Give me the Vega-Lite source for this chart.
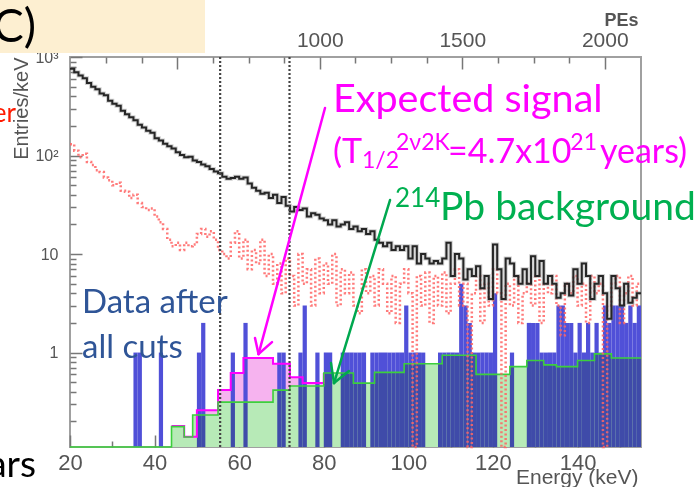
{
  "$schema": "https://vega.github.io/schema/vega-lite/v6.json",
  "width": 571,
  "height": 390,
  "autosize": "none",
  "padding": {"left": 70, "top": 57, "right": 53, "bottom": 40},
  "background": "white",
  "config": {"view": {"stroke": "#a0a0a0", "strokeWidth": 2}, "font": "Liberation Sans"},
  "datasets": {
    "h": [
      {"e":20,"black":760,"red":130,"pb":0.11},{"e":21,"black":700,"red":112,"pb":0.11},{"e":22,"black":650,"red":96,"pb":0.11},{"e":23,"black":610,"red":104,"pb":0.11},{"e":24,"black":545,"red":86,"pb":0.11},{"e":25,"black":500,"red":80,"pb":0.11},{"e":26,"black":470,"red":71,"pb":0.11},{"e":27,"black":425,"red":68,"pb":0.11},{"e":28,"black":410,"red":60,"pb":0.11},{"e":29,"black":360,"red":56,"pb":0.11},
      {"e":30,"black":335,"red":50,"pb":0.11},{"e":31,"black":320,"red":53,"pb":0.11},{"e":32,"black":285,"red":44,"pb":0.11},{"e":33,"black":262,"red":43,"pb":0.11},{"e":34,"black":245,"red":37,"pb":0.11},{"e":35,"black":228,"red":40,"pb":0.11},{"e":36,"black":205,"red":33,"pb":0.11},{"e":37,"black":192,"red":30,"pb":0.11},{"e":38,"black":178,"red":28,"pb":0.11},{"e":39,"black":170,"red":29,"pb":0.11},
      {"e":40,"black":150,"red":24,"pb":0.11},{"e":41,"black":142,"red":21,"pb":0.11},{"e":42,"black":132,"red":18,"pb":0.11},{"e":43,"black":124,"red":14,"pb":0.11},{"e":44,"black":118,"red":12,"pb":0.177,"sig":0.18},{"e":45,"black":108,"red":13,"pb":0.177,"sig":0.18},{"e":46,"black":101,"red":11,"pb":0.177,"sig":0.18},{"e":47,"black":96,"red":13,"pb":0.139,"sig":0.14},{"e":48,"black":97,"red":12,"pb":0.139,"sig":0.14},{"e":49,"black":89,"red":12.5,"pb":0.232,"sig":0.14},
      {"e":50,"black":86,"red":16,"pb":0.232,"sig":0.26},{"e":51,"black":81,"red":18,"pb":0.232,"sig":0.26},{"e":52,"black":78,"red":15,"pb":0.232,"sig":0.26},{"e":53,"black":73,"red":17,"pb":0.232,"sig":0.26},{"e":54,"black":69,"red":14,"pb":0.232,"sig":0.26},{"e":55,"black":66,"red":11,"pb":0.314,"sig":0.416},{"e":56,"black":61,"red":10,"pb":0.314,"sig":0.416},{"e":57,"black":58,"red":9,"pb":0.314,"sig":0.416},{"e":58,"black":59,"red":13,"pb":0.314,"sig":0.62},{"e":59,"black":61,"red":17,"pb":0.314,"sig":0.62},
      {"e":60,"black":58,"red":9,"pb":0.314,"sig":0.62},{"e":61,"black":60,"red":14,"pb":0.314,"sig":0.88},{"e":62,"black":52,"red":7,"pb":0.314,"sig":0.88},{"e":63,"black":47,"red":11,"pb":0.314,"sig":0.88},{"e":64,"black":44,"red":8,"pb":0.314,"sig":0.88},{"e":65,"black":41,"red":14,"pb":0.314,"sig":0.88},{"e":66,"black":42,"red":6,"pb":0.314,"sig":0.88},{"e":67,"black":37,"red":10,"pb":0.314,"sig":0.88},{"e":68,"black":40,"red":5,"pb":0.416,"sig":0.77},{"e":69,"black":33,"red":8,"pb":0.416,"sig":0.77},
      {"e":70,"black":38,"red":4,"pb":0.416,"sig":0.77},{"e":71,"black":31,"red":9,"pb":0.416,"sig":0.77},{"e":72,"black":27,"red":6,"pb":0.457,"sig":0.56},{"e":73,"black":30,"red":3,"pb":0.457,"sig":0.56},{"e":74,"black":28,"red":10,"pb":0.457,"sig":0.56},{"e":75,"black":29,"red":5,"pb":0.457,"sig":0.49},{"e":76,"black":24,"red":7,"pb":0.457,"sig":0.49},{"e":77,"black":26,"red":3,"pb":0.457,"sig":0.49},{"e":78,"black":25,"red":9,"pb":0.457,"sig":0.49},{"e":79,"black":23,"red":4,"pb":0.457,"sig":0.49},
      {"e":80,"black":22,"red":8,"pb":0.62,"sig":0.62},{"e":81,"black":20,"red":5,"pb":0.62},{"e":82,"black":22,"red":10,"pb":0.62},{"e":83,"black":19,"red":3,"pb":0.62},{"e":84,"black":20,"red":7,"pb":0.62},{"e":85,"black":21,"red":4,"pb":0.62},{"e":86,"black":18,"red":6.5,"pb":0.62},{"e":87,"black":19,"red":3,"pb":0.49},{"e":88,"black":17,"red":2.5,"pb":0.49},{"e":89,"black":18,"red":7,"pb":0.49},
      {"e":90,"black":16,"red":4,"pb":0.49},{"e":91,"black":17,"red":6,"pb":0.49},{"e":92,"black":14,"red":3,"pb":0.63},{"e":93,"black":13,"red":7,"pb":0.63},{"e":94,"black":12,"red":5,"pb":0.63},{"e":95,"black":13,"red":2.5,"pb":0.63},{"e":96,"black":11,"red":6,"pb":0.63},{"e":97,"black":12,"red":2,"pb":0.63},{"e":98,"black":11,"red":5,"pb":0.63},{"e":99,"black":12,"red":7,"pb":0.77},
      {"e":100,"black":9,"red":4,"pb":0.77},{"e":101,"black":12,"red":0.11,"pb":0.77},{"e":102,"black":8,"red":6,"pb":0.77},{"e":103,"black":10,"red":3,"pb":0.77},{"e":104,"black":9,"red":6.5,"pb":0.77},{"e":105,"black":8,"red":2,"pb":0.77},{"e":106,"black":8.5,"red":6,"pb":0.77},{"e":107,"black":8,"red":3,"pb":0.77},{"e":108,"black":9,"red":6.5,"pb":0.94},{"e":109,"black":13,"red":2.5,"pb":0.94},
      {"e":110,"black":6,"red":5,"pb":0.94},{"e":111,"black":10,"red":7,"pb":0.94},{"e":112,"black":9,"red":3,"pb":0.94},{"e":113,"black":5.5,"red":5,"pb":0.94},{"e":114,"black":7,"red":0.11,"pb":0.94},{"e":115,"black":6,"red":4,"pb":0.94},{"e":116,"black":7.5,"red":6,"pb":0.6},{"e":117,"black":4.5,"red":2,"pb":0.6},{"e":118,"black":6,"red":5,"pb":0.6},{"e":119,"black":3.5,"red":3,"pb":0.6},
      {"e":120,"black":12.5,"red":7,"pb":0.6},{"e":121,"black":7,"red":4,"pb":0.6},{"e":122,"black":3.5,"red":0.11,"pb":0.6},{"e":123,"black":9,"red":5,"pb":0.6},{"e":124,"black":8,"red":3,"pb":0.72},{"e":125,"black":6,"red":6,"pb":0.72},{"e":126,"black":5,"red":2,"pb":0.72},{"e":127,"black":7,"red":4,"pb":0.72},{"e":128,"black":5,"red":5,"pb":0.83},{"e":129,"black":9.5,"red":3,"pb":0.83},
      {"e":130,"black":6,"red":6,"pb":0.83},{"e":131,"black":8.5,"red":2,"pb":0.83},{"e":132,"black":5,"red":5,"pb":0.75},{"e":133,"black":6,"red":4,"pb":0.75},{"e":134,"black":5,"red":6,"pb":0.75},{"e":135,"black":3.6,"red":3,"pb":0.72},{"e":136,"black":4,"red":1.5,"pb":0.72},{"e":137,"black":5,"red":5,"pb":0.72},{"e":138,"black":3.8,"red":4,"pb":0.72},{"e":139,"black":7,"red":6,"pb":0.72},
      {"e":140,"black":5,"red":3,"pb":0.83},{"e":141,"black":8,"red":5,"pb":0.83},{"e":142,"black":6,"red":2,"pb":0.83},{"e":143,"black":3.5,"red":6,"pb":0.83},{"e":144,"black":5,"red":4,"pb":0.97},{"e":145,"black":6,"red":5,"pb":0.97},{"e":146,"black":4,"red":0.11,"pb":0.97},{"e":147,"black":2.2,"red":3,"pb":0.97},{"e":148,"black":6,"red":5,"pb":0.88},{"e":149,"black":4.5,"red":6,"pb":0.88},
      {"e":150,"black":3,"red":2,"pb":0.88},{"e":151,"black":5,"red":4,"pb":0.88},{"e":152,"black":3.2,"red":6,"pb":0.88},{"e":153,"black":3.6,"red":3,"pb":0.88},{"e":154,"black":4,"red":5,"pb":0.88},{"e":155,"black":4,"red":5,"pb":0.88}
    ],
    "cuts": [
      {"e":35,"e2":36,"n":1},{"e":36,"e2":37,"n":1},{"e":41,"e2":42,"n":1},{"e":50,"e2":51,"n":1},{"e":51,"e2":52,"n":2},{"e":58,"e2":59,"n":1},{"e":61,"e2":62,"n":2},{"e":69,"e2":70,"n":1},{"e":70,"e2":71,"n":1},{"e":74,"e2":75,"n":1},{"e":75,"e2":76,"n":3},{"e":78,"e2":79,"n":1},{"e":80,"e2":81,"n":1},{"e":81,"e2":82,"n":1},{"e":84,"e2":85,"n":1},{"e":85,"e2":86,"n":1},{"e":86,"e2":87,"n":1},{"e":87,"e2":88,"n":1},{"e":88,"e2":89,"n":1},{"e":89,"e2":90,"n":1},{"e":91,"e2":92,"n":1},{"e":92,"e2":93,"n":1},{"e":93,"e2":94,"n":1},{"e":94,"e2":95,"n":1},{"e":95,"e2":96,"n":1},{"e":96,"e2":97,"n":1},{"e":97,"e2":98,"n":1},{"e":98,"e2":99,"n":1},{"e":99,"e2":100,"n":3},{"e":100,"e2":101,"n":1},{"e":101,"e2":102,"n":1},{"e":102,"e2":103,"n":1},{"e":103,"e2":104,"n":1},{"e":107,"e2":108,"n":1},{"e":108,"e2":109,"n":1},{"e":109,"e2":110,"n":1},{"e":110,"e2":111,"n":1},{"e":111,"e2":112,"n":1},{"e":112,"e2":113,"n":5},{"e":113,"e2":114,"n":3},{"e":114,"e2":115,"n":2},{"e":115,"e2":116,"n":1},{"e":116,"e2":117,"n":1},{"e":117,"e2":118,"n":1},{"e":118,"e2":119,"n":1},{"e":119,"e2":120,"n":1},{"e":120,"e2":121,"n":4},{"e":124,"e2":125,"n":1},{"e":128,"e2":129,"n":2},{"e":129,"e2":130,"n":2},{"e":130,"e2":131,"n":2},{"e":131,"e2":132,"n":1},{"e":132,"e2":133,"n":1},{"e":133,"e2":134,"n":1},{"e":134,"e2":135,"n":1},{"e":135,"e2":136,"n":3},{"e":136,"e2":137,"n":3},{"e":137,"e2":138,"n":2},{"e":138,"e2":139,"n":2},{"e":139,"e2":140,"n":1},{"e":140,"e2":141,"n":2},{"e":141,"e2":142,"n":1},{"e":142,"e2":143,"n":2},{"e":143,"e2":144,"n":1},{"e":144,"e2":145,"n":2},{"e":145,"e2":146,"n":1},{"e":146,"e2":147,"n":3},{"e":147,"e2":148,"n":2},{"e":148,"e2":149,"n":3},{"e":149,"e2":150,"n":3},{"e":150,"e2":151,"n":3},{"e":151,"e2":152,"n":2},{"e":152,"e2":153,"n":3},{"e":153,"e2":154,"n":2},{"e":154,"e2":155,"n":3}
    ],
    "arrows": [
      {"c":"sig","e":80.29,"v":303.5,"e2":64.57,"v2":0.9656},{"c":"sig","e":63.74,"v":1.403,"e2":64.57,"v2":0.9656},{"c":"sig","e":67.76,"v":1.278,"e2":64.57,"v2":0.9656},
      {"c":"pb","e":95.66,"v":35.33,"e2":82.42,"v2":0.49},{"c":"pb","e":81.71,"v":0.782,"e2":82.42,"v2":0.49},{"c":"pb","e":85.96,"v":0.649,"e2":82.42,"v2":0.49}
    ]
  },
  "resolve": {"scale": {"x": "independent"}, "axis": {"x": "independent"}},
  "layer": [
    {
      "layer": [
        {
          "data": {"name": "h"},
          "mark": {"type": "area", "interpolate": "step-after", "color": "#f6b3ef"},
          "encoding": {
            "x": {"field": "e", "type": "quantitative", "scale": {"domain": [20, 155], "nice": false, "zero": false},
              "axis": {"orient": "bottom", "title": "Energy (keV)", "values": [20,25,30,35,40,45,50,55,60,65,70,75,80,85,90,95,100,105,110,115,120,125,130,135,140,145,150],
                "labelExpr": "datum.value % 20 == 0 ? datum.label : ''", "tickSize": {"condition": {"test": "datum.value % 20 == 0", "value": -12}, "value": -6},
                "tickColor": "#777", "tickWidth": 1.5, "domain": false, "grid": false, "labelFontSize": 22, "labelColor": "#555", "labelPadding": 17, "labelFlush": false,
                "titleX": 568, "titleY": 36, "titleAlign": "right", "titleBaseline": "alphabetic", "titleFontSize": 21, "titleFontWeight": "normal", "titleColor": "#555"}},
            "y": {"field": "sig", "type": "quantitative", "scale": {"type": "log", "domain": [0.11, 1000], "nice": false},
              "axis": {"title": "Entries/keV", "values": [0.2,0.3,0.4,0.5,0.6,0.7,0.8,0.9,1,2,3,4,5,6,7,8,9,10,20,30,40,50,60,70,80,90,100,200,300,400,500,600,700,800,900,1000],
                "labelExpr": "datum.value == 1 ? '1' : datum.value == 10 ? '10' : datum.value == 100 ? '10²' : datum.value == 1000 ? '10³' : ''",
                "tickSize": {"condition": {"test": "indexof([1,10,100,1000], datum.value) >= 0", "value": -12}, "value": -6},
                "tickColor": "#777", "tickWidth": 1.5, "domain": false, "grid": false, "labelFontSize": 16, "labelColor": "#555", "labelPadding": 24,
                "titleX": -49, "titleY": 0, "titleAlign": "right", "titleBaseline": "middle", "titleFontSize": 20, "titleFontWeight": "normal", "titleColor": "#555"}},
            "y2": {"datum": 0.11}
          }
        },
        {
          "data": {"name": "h"},
          "mark": {"type": "area", "interpolate": "step-after", "color": "#e9fbe9"},
          "encoding": {
            "x": {"field": "e", "type": "quantitative", "scale": {"domain": [20, 155], "nice": false, "zero": false}},
            "y": {"field": "pb", "type": "quantitative", "scale": {"type": "log", "domain": [0.11, 1000], "nice": false}},
            "y2": {"datum": 0.11}
          }
        },
        {
          "data": {"name": "cuts"},
          "mark": {"type": "rect", "color": "#5050d8"},
          "encoding": {
            "x": {"field": "e", "type": "quantitative", "scale": {"domain": [20, 155], "nice": false, "zero": false}},
            "x2": {"field": "e2"},
            "y": {"field": "n", "type": "quantitative", "scale": {"type": "log", "domain": [0.11, 1000], "nice": false}},
            "y2": {"datum": 0.11}
          }
        },
        {
          "data": {"name": "h"},
          "mark": {"type": "area", "interpolate": "step-after", "color": "#c8eec8", "blend": "multiply"},
          "encoding": {
            "x": {"field": "e", "type": "quantitative", "scale": {"domain": [20, 155], "nice": false, "zero": false}},
            "y": {"field": "pb", "type": "quantitative", "scale": {"type": "log", "domain": [0.11, 1000], "nice": false}},
            "y2": {"datum": 0.11}
          }
        },
        {
          "data": {"name": "h"},
          "mark": {"type": "line", "interpolate": "step-after", "color": "#ff00ff", "strokeWidth": 2},
          "encoding": {
            "x": {"field": "e", "type": "quantitative", "scale": {"domain": [20, 155], "nice": false, "zero": false}},
            "y": {"field": "sig", "type": "quantitative", "scale": {"type": "log", "domain": [0.11, 1000], "nice": false}}
          }
        },
        {
          "data": {"name": "h"},
          "mark": {"type": "line", "interpolate": "step-after", "color": "#3ccf3c", "strokeWidth": 1.6},
          "encoding": {
            "x": {"field": "e", "type": "quantitative", "scale": {"domain": [20, 155], "nice": false, "zero": false}},
            "y": {"field": "pb", "type": "quantitative", "scale": {"type": "log", "domain": [0.11, 1000], "nice": false}}
          }
        },
        {
          "data": {"name": "h"},
          "mark": {"type": "line", "interpolate": "step-after", "color": "#ff6464", "strokeWidth": 2.5, "strokeDash": [2, 2.5], "opacity": 0.85},
          "encoding": {
            "x": {"field": "e", "type": "quantitative", "scale": {"domain": [20, 155], "nice": false, "zero": false}},
            "y": {"field": "red", "type": "quantitative", "scale": {"type": "log", "domain": [0.11, 1000], "nice": false}}
          }
        },
        {
          "data": {"name": "h"},
          "mark": {"type": "line", "interpolate": "step-after", "color": "#888888", "strokeWidth": 4, "opacity": 0.4},
          "encoding": {
            "x": {"field": "e", "type": "quantitative", "scale": {"domain": [20, 155], "nice": false, "zero": false}},
            "y": {"field": "black", "type": "quantitative", "scale": {"type": "log", "domain": [0.11, 1000], "nice": false}}
          }
        },
        {
          "data": {"name": "h"},
          "mark": {"type": "line", "interpolate": "step-after", "color": "#262626", "strokeWidth": 2},
          "encoding": {
            "x": {"field": "e", "type": "quantitative", "scale": {"domain": [20, 155], "nice": false, "zero": false}},
            "y": {"field": "black", "type": "quantitative", "scale": {"type": "log", "domain": [0.11, 1000], "nice": false}}
          }
        },
        {
          "data": {"values": [{"e": 55.5}, {"e": 71.9}]},
          "mark": {"type": "rule", "color": "#444", "strokeWidth": 2.2, "strokeDash": [2, 2]},
          "encoding": {
            "x": {"field": "e", "type": "quantitative", "scale": {"domain": [20, 155], "nice": false, "zero": false}}
          }
        },
        {
          "data": {"name": "arrows"},
          "transform": [{"filter": "datum.c == 'sig'"}],
          "mark": {"type": "rule", "color": "#ff00ff", "strokeWidth": 2.5, "strokeCap": "round"},
          "encoding": {
            "x": {"field": "e", "type": "quantitative", "scale": {"domain": [20, 155], "nice": false, "zero": false}},
            "x2": {"field": "e2"},
            "y": {"field": "v", "type": "quantitative", "scale": {"type": "log", "domain": [0.11, 1000], "nice": false}},
            "y2": {"field": "v2"}
          }
        },
        {
          "data": {"name": "arrows"},
          "transform": [{"filter": "datum.c == 'pb'"}],
          "mark": {"type": "rule", "color": "#00a84f", "strokeWidth": 2.5, "strokeCap": "round"},
          "encoding": {
            "x": {"field": "e", "type": "quantitative", "scale": {"domain": [20, 155], "nice": false, "zero": false}},
            "x2": {"field": "e2"},
            "y": {"field": "v", "type": "quantitative", "scale": {"type": "log", "domain": [0.11, 1000], "nice": false}},
            "y2": {"field": "v2"}
          }
        },
        {
          "data": {"values": [{"e": 0, "e2": 51.92, "v": 1098, "v2": 5000}]},
          "mark": {"type": "rect", "color": "#fdefd1"},
          "encoding": {
            "x": {"field": "e", "type": "quantitative", "scale": {"domain": [20, 155], "nice": false, "zero": false}},
            "x2": {"field": "e2"},
            "y": {"field": "v", "type": "quantitative", "scale": {"type": "log", "domain": [0.11, 1000], "nice": false}},
            "y2": {"field": "v2"}
          }
        },
        {
          "data": {"values": [{"t": "Expected signal", "e": 82.18, "v": 276.4}]},
          "mark": {"type": "text", "font": "Lato", "fontSize": 39.5, "color": "#ff00ff", "align": "left", "baseline": "alphabetic"},
          "encoding": {
            "x": {"field": "e", "type": "quantitative", "scale": {"domain": [20, 155], "nice": false, "zero": false}},
            "y": {"field": "v", "type": "quantitative", "scale": {"type": "log", "domain": [0.11, 1000], "nice": false}},
            "text": {"field": "t"}
          }
        },
        {
          "data": {"values": [{"t": "(T", "e": 82.18, "v": 83.9}, {"t": "=4.7x10", "e": 109.37, "v": 83.9}, {"t": "years)", "e": 145.3, "v": 83.9}]},
          "mark": {"type": "text", "font": "Lato", "fontSize": 34, "color": "#ff00ff", "align": "left", "baseline": "alphabetic"},
          "encoding": {
            "x": {"field": "e", "type": "quantitative", "scale": {"domain": [20, 155], "nice": false, "zero": false}},
            "y": {"field": "v", "type": "quantitative", "scale": {"type": "log", "domain": [0.11, 1000], "nice": false}},
            "text": {"field": "t"}
          }
        },
        {
          "data": {"values": [{"t": "1/2", "e": 89.04, "v": 74.6}, {"t": "2ν2K", "e": 97.08, "v": 113.7}, {"t": "21", "e": 138.3, "v": 113.7}]},
          "mark": {"type": "text", "font": "Lato", "fontSize": 23, "color": "#ff00ff", "align": "left", "baseline": "alphabetic"},
          "encoding": {
            "x": {"field": "e", "type": "quantitative", "scale": {"domain": [20, 155], "nice": false, "zero": false}},
            "y": {"field": "v", "type": "quantitative", "scale": {"type": "log", "domain": [0.11, 1000], "nice": false}},
            "text": {"field": "t"}
          }
        },
        {
          "data": {"values": [{"t": "214", "e": 96.84, "v": 30.0}]},
          "mark": {"type": "text", "font": "Lato", "fontSize": 26, "color": "#00b050", "align": "left", "baseline": "alphabetic"},
          "encoding": {
            "x": {"field": "e", "type": "quantitative", "scale": {"domain": [20, 155], "nice": false, "zero": false}},
            "y": {"field": "v", "type": "quantitative", "scale": {"type": "log", "domain": [0.11, 1000], "nice": false}},
            "text": {"field": "t"}
          }
        },
        {
          "data": {"values": [{"t": "Pb background", "e": 107.48, "v": 22.14}]},
          "mark": {"type": "text", "font": "Lato", "fontSize": 39, "color": "#00b050", "align": "left", "baseline": "alphabetic"},
          "encoding": {
            "x": {"field": "e", "type": "quantitative", "scale": {"domain": [20, 155], "nice": false, "zero": false}},
            "y": {"field": "v", "type": "quantitative", "scale": {"type": "log", "domain": [0.11, 1000], "nice": false}},
            "text": {"field": "t"}
          }
        },
        {
          "data": {"values": [{"t": "Data after", "e": 22.84, "v": 2.518}, {"t": "all cuts", "e": 22.84, "v": 0.88}]},
          "mark": {"type": "text", "font": "Lato", "fontSize": 33, "color": "#2f5597", "align": "left", "baseline": "alphabetic"},
          "encoding": {
            "x": {"field": "e", "type": "quantitative", "scale": {"domain": [20, 155], "nice": false, "zero": false}},
            "y": {"field": "v", "type": "quantitative", "scale": {"type": "log", "domain": [0.11, 1000], "nice": false}},
            "text": {"field": "t"}
          }
        },
        {
          "data": {"values": [{"t": "er", "e": 7.23, "v": 218.8}]},
          "mark": {"type": "text", "font": "Lato", "fontSize": 26, "color": "#ff1a00", "align": "right", "baseline": "alphabetic"},
          "encoding": {
            "x": {"field": "e", "type": "quantitative", "scale": {"domain": [20, 155], "nice": false, "zero": false}},
            "y": {"field": "v", "type": "quantitative", "scale": {"type": "log", "domain": [0.11, 1000], "nice": false}},
            "text": {"field": "t"}
          }
        },
        {
          "data": {"values": [{"t": "ars", "e": 11.96, "v": 0.0545}]},
          "mark": {"type": "text", "font": "Lato", "fontSize": 37, "color": "#000000", "align": "right", "baseline": "alphabetic"},
          "encoding": {
            "x": {"field": "e", "type": "quantitative", "scale": {"domain": [20, 155], "nice": false, "zero": false}},
            "y": {"field": "v", "type": "quantitative", "scale": {"type": "log", "domain": [0.11, 1000], "nice": false}},
            "text": {"field": "t"}
          }
        },
        {
          "data": {"values": [{"t": "C)", "e": 11.96, "v": 1419}]},
          "mark": {"type": "text", "font": "Lato", "fontSize": 46, "color": "#000000", "align": "right", "baseline": "alphabetic"},
          "encoding": {
            "x": {"field": "e", "type": "quantitative", "scale": {"domain": [20, 155], "nice": false, "zero": false}},
            "y": {"field": "v", "type": "quantitative", "scale": {"type": "log", "domain": [0.11, 1000], "nice": false}},
            "text": {"field": "t"}
          }
        }
      ]
    },
    {
      "data": {"values": [{"pe": 1000}]},
      "mark": {"type": "rule", "opacity": 0},
      "encoding": {
        "x": {"field": "pe", "type": "quantitative", "scale": {"domain": [123.5, 2127], "nice": false, "zero": false},
          "axis": {"orient": "top", "title": "PEs", "values": [250,375,500,625,750,875,1000,1125,1250,1375,1500,1625,1750,1875,2000],
            "labelExpr": "datum.value % 500 == 0 && datum.value >= 1000 ? datum.label : ''",
            "format": "d",
            "tickSize": {"condition": {"test": "datum.value % 500 == 0", "value": -12}, "value": -6},
            "tickColor": "#777", "tickWidth": 1.5, "domain": false, "grid": false, "labelFontSize": 21, "labelColor": "#555", "labelPadding": 19, "labelFlush": false,
            "titleX": 568, "titleY": -37, "titleAlign": "right", "titleBaseline": "middle", "titleFontSize": 18, "titleFontWeight": "bold", "titleColor": "#555"}}
      }
    }
  ]
}
